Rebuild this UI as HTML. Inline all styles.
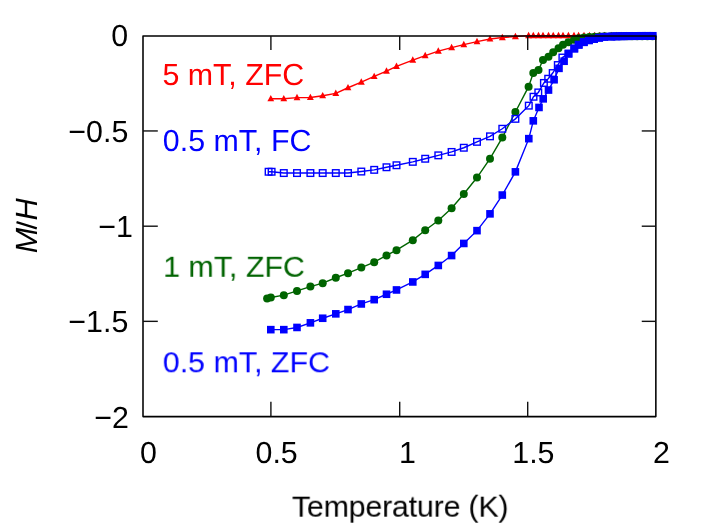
<!DOCTYPE html>
<html><head><meta charset="utf-8"><title>M/H vs Temperature</title>
<style>
html,body{margin:0;padding:0;background:#fff;}
svg{display:block;}
text{font-family:"Liberation Sans",sans-serif;font-size:30.4px;}
</style></head><body>
<svg width="706" height="530" viewBox="0 0 706 530">
<rect width="706" height="530" fill="#fff"/>
<g id="data" transform="translate(0,0.15)">
<polyline points="270.8,98.6 283.8,98.6 297.0,97.5 310.4,97.3 322.7,95.6 335.8,93.2 348.0,87.6 361.3,82.0 374.2,76.3 386.5,71.0 396.5,66.2 412.8,59.9 425.2,55.5 438.3,51.0 451.6,47.5 463.8,44.5 477.0,41.5 490.0,38.8 502.3,37.4 515.4,36.4 528.6,35.5 533.3,35.5 538.5,35.5 543.0,35.5 548.5,35.5 553.2,35.5 558.5,35.5 563.0,35.5 568.4,35.5 574.0,35.5 578.6,35.5 584.0,35.5 589.4,35.5 594.6,35.5 599.6,35.5 604.6,35.5 611.5,35.5 616.6,35.5 621.7,35.5 626.9,35.5 632.0,35.5 637.1,35.5 642.2,35.5 647.4,35.5 652.5,35.5" fill="none" stroke="#ff0000" stroke-width="1.4"/>
<path d="M270.8,94.8L274.2,101.2L267.4,101.2Z" fill="#ff0000"/>
<path d="M283.8,94.8L287.2,101.2L280.4,101.2Z" fill="#ff0000"/>
<path d="M297.0,93.7L300.4,100.1L293.6,100.1Z" fill="#ff0000"/>
<path d="M310.4,93.5L313.8,99.9L306.9,99.9Z" fill="#ff0000"/>
<path d="M322.7,91.8L326.1,98.2L319.2,98.2Z" fill="#ff0000"/>
<path d="M335.8,89.4L339.2,95.8L332.4,95.8Z" fill="#ff0000"/>
<path d="M348.0,83.8L351.4,90.2L344.6,90.2Z" fill="#ff0000"/>
<path d="M361.3,78.2L364.8,84.6L357.9,84.6Z" fill="#ff0000"/>
<path d="M374.2,72.5L377.6,78.9L370.8,78.9Z" fill="#ff0000"/>
<path d="M386.5,67.2L389.9,73.6L383.1,73.6Z" fill="#ff0000"/>
<path d="M396.5,62.4L399.9,68.8L393.1,68.8Z" fill="#ff0000"/>
<path d="M412.8,56.1L416.2,62.5L409.4,62.5Z" fill="#ff0000"/>
<path d="M425.2,51.7L428.6,58.1L421.8,58.1Z" fill="#ff0000"/>
<path d="M438.3,47.2L441.8,53.6L434.9,53.6Z" fill="#ff0000"/>
<path d="M451.6,43.7L455.1,50.1L448.2,50.1Z" fill="#ff0000"/>
<path d="M463.8,40.7L467.2,47.1L460.4,47.1Z" fill="#ff0000"/>
<path d="M477.0,37.7L480.4,44.1L473.6,44.1Z" fill="#ff0000"/>
<path d="M490.0,35.0L493.4,41.4L486.6,41.4Z" fill="#ff0000"/>
<path d="M502.3,33.6L505.8,40.0L498.9,40.0Z" fill="#ff0000"/>
<path d="M515.4,32.6L518.9,39.0L511.9,39.0Z" fill="#ff0000"/>
<path d="M528.6,31.7L532.1,38.1L525.1,38.1Z" fill="#ff0000"/>
<path d="M533.3,31.7L536.8,38.1L529.8,38.1Z" fill="#ff0000"/>
<path d="M538.5,31.7L542.0,38.1L535.0,38.1Z" fill="#ff0000"/>
<path d="M543.0,31.7L546.5,38.1L539.5,38.1Z" fill="#ff0000"/>
<path d="M548.5,31.7L552.0,38.1L545.0,38.1Z" fill="#ff0000"/>
<path d="M553.2,31.7L556.7,38.1L549.8,38.1Z" fill="#ff0000"/>
<path d="M558.5,31.7L562.0,38.1L555.0,38.1Z" fill="#ff0000"/>
<path d="M563.0,31.7L566.5,38.1L559.5,38.1Z" fill="#ff0000"/>
<path d="M568.4,31.7L571.9,38.1L564.9,38.1Z" fill="#ff0000"/>
<path d="M574.0,31.7L577.5,38.1L570.5,38.1Z" fill="#ff0000"/>
<path d="M578.6,31.7L582.1,38.1L575.1,38.1Z" fill="#ff0000"/>
<path d="M584.0,31.7L587.5,38.1L580.5,38.1Z" fill="#ff0000"/>
<path d="M589.4,31.7L592.9,38.1L585.9,38.1Z" fill="#ff0000"/>
<path d="M594.6,31.7L598.1,38.1L591.1,38.1Z" fill="#ff0000"/>
<path d="M599.6,31.7L603.1,38.1L596.1,38.1Z" fill="#ff0000"/>
<path d="M604.6,31.7L608.1,38.1L601.1,38.1Z" fill="#ff0000"/>
<path d="M611.5,31.7L614.9,38.1L608.0,38.1Z" fill="#ff0000"/>
<path d="M616.6,31.7L620.0,38.1L613.1,38.1Z" fill="#ff0000"/>
<path d="M621.7,31.7L625.2,38.1L618.3,38.1Z" fill="#ff0000"/>
<path d="M626.9,31.7L630.3,38.1L623.4,38.1Z" fill="#ff0000"/>
<path d="M632.0,31.7L635.4,38.1L628.5,38.1Z" fill="#ff0000"/>
<path d="M637.1,31.7L640.6,38.1L633.7,38.1Z" fill="#ff0000"/>
<path d="M642.2,31.7L645.7,38.1L638.8,38.1Z" fill="#ff0000"/>
<path d="M647.4,31.7L650.8,38.1L643.9,38.1Z" fill="#ff0000"/>
<path d="M652.5,31.7L656.0,38.1L649.0,38.1Z" fill="#ff0000"/>
<polyline points="267.1,298.3 270.8,297.3 283.8,295.0 297.0,290.8 310.4,286.4 322.7,283.0 335.8,277.6 348.0,273.0 361.3,267.4 374.2,262.0 386.5,255.3 396.5,250.0 412.8,240.0 425.2,230.1 438.3,220.3 451.6,208.0 463.8,193.9 477.0,177.4 490.0,158.5 502.3,137.4 515.4,111.9 528.6,86.5 533.3,72.9 538.5,69.8 543.0,59.9 548.5,56.7 553.2,52.2 558.5,48.0 563.0,44.6 568.4,42.0 574.0,39.7 578.6,38.2 584.0,37.3 589.4,36.8 594.6,36.5 599.6,36.3 604.6,36.2 611.5,36.1 616.6,36.0 621.7,36.0 626.9,36.0 632.0,36.0 637.1,36.0 642.2,36.0 647.4,36.0 652.5,36.0" fill="none" stroke="#006400" stroke-width="1.4"/>
<circle cx="267.1" cy="298.3" r="4.0" fill="#006400"/>
<circle cx="270.8" cy="297.3" r="4.0" fill="#006400"/>
<circle cx="283.8" cy="295.0" r="4.0" fill="#006400"/>
<circle cx="297.0" cy="290.8" r="4.0" fill="#006400"/>
<circle cx="310.4" cy="286.4" r="4.0" fill="#006400"/>
<circle cx="322.7" cy="283.0" r="4.0" fill="#006400"/>
<circle cx="335.8" cy="277.6" r="4.0" fill="#006400"/>
<circle cx="348.0" cy="273.0" r="4.0" fill="#006400"/>
<circle cx="361.3" cy="267.4" r="4.0" fill="#006400"/>
<circle cx="374.2" cy="262.0" r="4.0" fill="#006400"/>
<circle cx="386.5" cy="255.3" r="4.0" fill="#006400"/>
<circle cx="396.5" cy="250.0" r="4.0" fill="#006400"/>
<circle cx="412.8" cy="240.0" r="4.0" fill="#006400"/>
<circle cx="425.2" cy="230.1" r="4.0" fill="#006400"/>
<circle cx="438.3" cy="220.3" r="4.0" fill="#006400"/>
<circle cx="451.6" cy="208.0" r="4.0" fill="#006400"/>
<circle cx="463.8" cy="193.9" r="4.0" fill="#006400"/>
<circle cx="477.0" cy="177.4" r="4.0" fill="#006400"/>
<circle cx="490.0" cy="158.5" r="4.0" fill="#006400"/>
<circle cx="502.3" cy="137.4" r="4.0" fill="#006400"/>
<circle cx="515.4" cy="111.9" r="4.0" fill="#006400"/>
<circle cx="528.6" cy="86.5" r="4.0" fill="#006400"/>
<circle cx="533.3" cy="72.9" r="4.0" fill="#006400"/>
<circle cx="538.5" cy="69.8" r="4.0" fill="#006400"/>
<circle cx="543.0" cy="59.9" r="4.0" fill="#006400"/>
<circle cx="548.5" cy="56.7" r="4.0" fill="#006400"/>
<circle cx="553.2" cy="52.2" r="4.0" fill="#006400"/>
<circle cx="558.5" cy="48.0" r="4.0" fill="#006400"/>
<circle cx="563.0" cy="44.6" r="4.0" fill="#006400"/>
<circle cx="568.4" cy="42.0" r="4.0" fill="#006400"/>
<circle cx="574.0" cy="39.7" r="4.0" fill="#006400"/>
<circle cx="578.6" cy="38.2" r="4.0" fill="#006400"/>
<circle cx="584.0" cy="37.3" r="4.0" fill="#006400"/>
<circle cx="589.4" cy="36.8" r="4.0" fill="#006400"/>
<circle cx="594.6" cy="36.5" r="4.0" fill="#006400"/>
<circle cx="599.6" cy="36.3" r="4.0" fill="#006400"/>
<circle cx="604.6" cy="36.2" r="4.0" fill="#006400"/>
<circle cx="611.5" cy="36.1" r="4.0" fill="#006400"/>
<circle cx="616.6" cy="36.0" r="4.0" fill="#006400"/>
<circle cx="621.7" cy="36.0" r="4.0" fill="#006400"/>
<circle cx="626.9" cy="36.0" r="4.0" fill="#006400"/>
<circle cx="632.0" cy="36.0" r="4.0" fill="#006400"/>
<circle cx="637.1" cy="36.0" r="4.0" fill="#006400"/>
<circle cx="642.2" cy="36.0" r="4.0" fill="#006400"/>
<circle cx="647.4" cy="36.0" r="4.0" fill="#006400"/>
<circle cx="652.5" cy="36.0" r="4.0" fill="#006400"/>
<polyline points="268.6,171.6 271.6,171.6 283.8,172.9 297.0,172.9 310.4,172.9 322.7,172.9 335.8,172.9 348.0,172.9 361.3,171.4 374.2,169.7 386.5,167.1 396.5,165.1 412.8,161.7 425.2,158.6 438.3,155.2 451.6,151.8 463.8,147.6 477.0,141.7 490.0,136.2 502.3,128.6 515.4,118.7 528.8,105.5 533.5,96.6 538.3,92.3 543.9,82.8 548.2,78.6 552.7,72.9 557.8,64.9 562.4,57.4 568.5,53.5 574.3,48.4 578.7,44.6 583.8,42.0 588.9,40.1 594.0,38.8 599.1,37.6 604.2,36.7 611.5,36.4 616.6,36.2 621.7,36.1 626.9,36.0 632.0,35.9 637.1,35.9 642.2,35.8 647.4,35.8 652.5,35.8" fill="none" stroke="#0000ff" stroke-width="1.4"/>
<rect x="265.3" y="168.3" width="6.6" height="6.6" fill="none" stroke="#0000ff" stroke-width="1.4"/>
<rect x="268.3" y="168.3" width="6.6" height="6.6" fill="none" stroke="#0000ff" stroke-width="1.4"/>
<rect x="280.5" y="169.6" width="6.6" height="6.6" fill="none" stroke="#0000ff" stroke-width="1.4"/>
<rect x="293.7" y="169.6" width="6.6" height="6.6" fill="none" stroke="#0000ff" stroke-width="1.4"/>
<rect x="307.1" y="169.6" width="6.6" height="6.6" fill="none" stroke="#0000ff" stroke-width="1.4"/>
<rect x="319.4" y="169.6" width="6.6" height="6.6" fill="none" stroke="#0000ff" stroke-width="1.4"/>
<rect x="332.5" y="169.6" width="6.6" height="6.6" fill="none" stroke="#0000ff" stroke-width="1.4"/>
<rect x="344.7" y="169.6" width="6.6" height="6.6" fill="none" stroke="#0000ff" stroke-width="1.4"/>
<rect x="358.0" y="168.1" width="6.6" height="6.6" fill="none" stroke="#0000ff" stroke-width="1.4"/>
<rect x="370.9" y="166.4" width="6.6" height="6.6" fill="none" stroke="#0000ff" stroke-width="1.4"/>
<rect x="383.2" y="163.8" width="6.6" height="6.6" fill="none" stroke="#0000ff" stroke-width="1.4"/>
<rect x="393.2" y="161.8" width="6.6" height="6.6" fill="none" stroke="#0000ff" stroke-width="1.4"/>
<rect x="409.5" y="158.4" width="6.6" height="6.6" fill="none" stroke="#0000ff" stroke-width="1.4"/>
<rect x="421.9" y="155.3" width="6.6" height="6.6" fill="none" stroke="#0000ff" stroke-width="1.4"/>
<rect x="435.0" y="151.9" width="6.6" height="6.6" fill="none" stroke="#0000ff" stroke-width="1.4"/>
<rect x="448.3" y="148.5" width="6.6" height="6.6" fill="none" stroke="#0000ff" stroke-width="1.4"/>
<rect x="460.5" y="144.3" width="6.6" height="6.6" fill="none" stroke="#0000ff" stroke-width="1.4"/>
<rect x="473.7" y="138.4" width="6.6" height="6.6" fill="none" stroke="#0000ff" stroke-width="1.4"/>
<rect x="486.7" y="132.9" width="6.6" height="6.6" fill="none" stroke="#0000ff" stroke-width="1.4"/>
<rect x="499.0" y="125.3" width="6.6" height="6.6" fill="none" stroke="#0000ff" stroke-width="1.4"/>
<rect x="512.1" y="115.4" width="6.6" height="6.6" fill="none" stroke="#0000ff" stroke-width="1.4"/>
<rect x="525.5" y="102.2" width="6.6" height="6.6" fill="none" stroke="#0000ff" stroke-width="1.4"/>
<rect x="530.2" y="93.3" width="6.6" height="6.6" fill="none" stroke="#0000ff" stroke-width="1.4"/>
<rect x="535.0" y="89.0" width="6.6" height="6.6" fill="none" stroke="#0000ff" stroke-width="1.4"/>
<rect x="540.6" y="79.5" width="6.6" height="6.6" fill="none" stroke="#0000ff" stroke-width="1.4"/>
<rect x="544.9" y="75.3" width="6.6" height="6.6" fill="none" stroke="#0000ff" stroke-width="1.4"/>
<rect x="549.4" y="69.6" width="6.6" height="6.6" fill="none" stroke="#0000ff" stroke-width="1.4"/>
<rect x="554.5" y="61.6" width="6.6" height="6.6" fill="none" stroke="#0000ff" stroke-width="1.4"/>
<rect x="559.1" y="54.1" width="6.6" height="6.6" fill="none" stroke="#0000ff" stroke-width="1.4"/>
<rect x="565.2" y="50.2" width="6.6" height="6.6" fill="none" stroke="#0000ff" stroke-width="1.4"/>
<rect x="571.0" y="45.1" width="6.6" height="6.6" fill="none" stroke="#0000ff" stroke-width="1.4"/>
<rect x="575.4" y="41.3" width="6.6" height="6.6" fill="none" stroke="#0000ff" stroke-width="1.4"/>
<rect x="580.5" y="38.7" width="6.6" height="6.6" fill="none" stroke="#0000ff" stroke-width="1.4"/>
<rect x="585.6" y="36.8" width="6.6" height="6.6" fill="none" stroke="#0000ff" stroke-width="1.4"/>
<rect x="590.7" y="35.5" width="6.6" height="6.6" fill="none" stroke="#0000ff" stroke-width="1.4"/>
<rect x="595.8" y="34.3" width="6.6" height="6.6" fill="none" stroke="#0000ff" stroke-width="1.4"/>
<rect x="600.9" y="33.4" width="6.6" height="6.6" fill="none" stroke="#0000ff" stroke-width="1.4"/>
<rect x="608.2" y="33.1" width="6.6" height="6.6" fill="none" stroke="#0000ff" stroke-width="1.4"/>
<rect x="613.3" y="32.9" width="6.6" height="6.6" fill="none" stroke="#0000ff" stroke-width="1.4"/>
<rect x="618.4" y="32.8" width="6.6" height="6.6" fill="none" stroke="#0000ff" stroke-width="1.4"/>
<rect x="623.6" y="32.7" width="6.6" height="6.6" fill="none" stroke="#0000ff" stroke-width="1.4"/>
<rect x="628.7" y="32.6" width="6.6" height="6.6" fill="none" stroke="#0000ff" stroke-width="1.4"/>
<rect x="633.8" y="32.6" width="6.6" height="6.6" fill="none" stroke="#0000ff" stroke-width="1.4"/>
<rect x="638.9" y="32.5" width="6.6" height="6.6" fill="none" stroke="#0000ff" stroke-width="1.4"/>
<rect x="644.1" y="32.5" width="6.6" height="6.6" fill="none" stroke="#0000ff" stroke-width="1.4"/>
<rect x="649.2" y="32.5" width="6.6" height="6.6" fill="none" stroke="#0000ff" stroke-width="1.4"/>
<polyline points="270.8,329.5 283.8,329.5 297.0,327.3 310.4,322.7 322.7,318.1 335.8,313.7 348.0,309.4 361.3,303.8 374.2,299.5 386.5,294.1 396.5,289.8 412.8,281.8 425.2,274.2 438.3,265.3 451.6,255.4 463.8,243.3 477.0,230.5 490.0,213.7 502.3,194.9 515.4,171.7 528.8,138.5 533.3,120.7 539.0,107.3 543.2,98.7 548.5,89.9 554.1,79.6 559.0,68.2 564.1,61.1 568.5,53.5 574.3,48.4 578.7,44.6 583.8,42.0 588.9,40.1 594.0,38.8 599.1,37.6 604.2,36.7 611.5,36.4 616.6,36.2 621.7,36.1 626.9,36.0 632.0,35.9 637.1,35.9 642.2,35.8 647.4,35.8 652.5,35.8" fill="none" stroke="#0000ff" stroke-width="1.4"/>
<rect x="267.00" y="325.70" width="7.6" height="7.6" fill="#0000ff"/>
<rect x="280.00" y="325.70" width="7.6" height="7.6" fill="#0000ff"/>
<rect x="293.20" y="323.50" width="7.6" height="7.6" fill="#0000ff"/>
<rect x="306.60" y="318.90" width="7.6" height="7.6" fill="#0000ff"/>
<rect x="318.90" y="314.30" width="7.6" height="7.6" fill="#0000ff"/>
<rect x="332.00" y="309.90" width="7.6" height="7.6" fill="#0000ff"/>
<rect x="344.20" y="305.60" width="7.6" height="7.6" fill="#0000ff"/>
<rect x="357.50" y="300.00" width="7.6" height="7.6" fill="#0000ff"/>
<rect x="370.40" y="295.70" width="7.6" height="7.6" fill="#0000ff"/>
<rect x="382.70" y="290.30" width="7.6" height="7.6" fill="#0000ff"/>
<rect x="392.70" y="286.00" width="7.6" height="7.6" fill="#0000ff"/>
<rect x="409.00" y="278.00" width="7.6" height="7.6" fill="#0000ff"/>
<rect x="421.40" y="270.40" width="7.6" height="7.6" fill="#0000ff"/>
<rect x="434.50" y="261.50" width="7.6" height="7.6" fill="#0000ff"/>
<rect x="447.80" y="251.60" width="7.6" height="7.6" fill="#0000ff"/>
<rect x="460.00" y="239.50" width="7.6" height="7.6" fill="#0000ff"/>
<rect x="473.20" y="226.70" width="7.6" height="7.6" fill="#0000ff"/>
<rect x="486.20" y="209.90" width="7.6" height="7.6" fill="#0000ff"/>
<rect x="498.50" y="191.10" width="7.6" height="7.6" fill="#0000ff"/>
<rect x="511.60" y="167.90" width="7.6" height="7.6" fill="#0000ff"/>
<rect x="525.00" y="134.70" width="7.6" height="7.6" fill="#0000ff"/>
<rect x="529.50" y="116.90" width="7.6" height="7.6" fill="#0000ff"/>
<rect x="535.20" y="103.50" width="7.6" height="7.6" fill="#0000ff"/>
<rect x="539.40" y="94.90" width="7.6" height="7.6" fill="#0000ff"/>
<rect x="544.70" y="86.10" width="7.6" height="7.6" fill="#0000ff"/>
<rect x="550.30" y="75.80" width="7.6" height="7.6" fill="#0000ff"/>
<rect x="555.20" y="64.40" width="7.6" height="7.6" fill="#0000ff"/>
<rect x="560.30" y="57.30" width="7.6" height="7.6" fill="#0000ff"/>
<rect x="564.70" y="49.70" width="7.6" height="7.6" fill="#0000ff"/>
<rect x="570.50" y="44.60" width="7.6" height="7.6" fill="#0000ff"/>
<rect x="574.90" y="40.80" width="7.6" height="7.6" fill="#0000ff"/>
<rect x="580.00" y="38.20" width="7.6" height="7.6" fill="#0000ff"/>
<rect x="585.10" y="36.30" width="7.6" height="7.6" fill="#0000ff"/>
<rect x="590.20" y="35.00" width="7.6" height="7.6" fill="#0000ff"/>
<rect x="595.30" y="33.80" width="7.6" height="7.6" fill="#0000ff"/>
<rect x="600.40" y="32.90" width="7.6" height="7.6" fill="#0000ff"/>
<rect x="607.66" y="32.60" width="7.6" height="7.6" fill="#0000ff"/>
<rect x="612.79" y="32.40" width="7.6" height="7.6" fill="#0000ff"/>
<rect x="617.92" y="32.30" width="7.6" height="7.6" fill="#0000ff"/>
<rect x="623.05" y="32.20" width="7.6" height="7.6" fill="#0000ff"/>
<rect x="628.18" y="32.10" width="7.6" height="7.6" fill="#0000ff"/>
<rect x="633.31" y="32.10" width="7.6" height="7.6" fill="#0000ff"/>
<rect x="638.44" y="32.00" width="7.6" height="7.6" fill="#0000ff"/>
<rect x="643.57" y="32.00" width="7.6" height="7.6" fill="#0000ff"/>
<rect x="648.70" y="32.00" width="7.6" height="7.6" fill="#0000ff"/>
</g>
<g id="axes">
<rect x="143.0" y="36.0" width="512.85" height="380.6" fill="none" stroke="#000" stroke-width="1.55" stroke-linejoin="round"/>
<line x1="270.90" y1="36.0" x2="270.90" y2="49.9" stroke="#111" stroke-width="1.4"/>
<line x1="270.90" y1="416.6" x2="270.90" y2="401.75" stroke="#111" stroke-width="1.4"/>
<line x1="399.70" y1="36.0" x2="399.70" y2="49.9" stroke="#111" stroke-width="1.4"/>
<line x1="399.70" y1="416.6" x2="399.70" y2="401.75" stroke="#111" stroke-width="1.4"/>
<line x1="527.70" y1="36.0" x2="527.70" y2="49.9" stroke="#111" stroke-width="1.4"/>
<line x1="527.70" y1="416.6" x2="527.70" y2="401.75" stroke="#111" stroke-width="1.4"/>
<line x1="143.0" y1="130.95" x2="157.8" y2="130.95" stroke="#111" stroke-width="1.4"/>
<line x1="655.85" y1="130.95" x2="641.75" y2="130.95" stroke="#111" stroke-width="1.4"/>
<line x1="143.0" y1="226.20" x2="157.8" y2="226.20" stroke="#111" stroke-width="1.4"/>
<line x1="655.85" y1="226.20" x2="641.75" y2="226.20" stroke="#111" stroke-width="1.4"/>
<line x1="143.0" y1="321.35" x2="157.8" y2="321.35" stroke="#111" stroke-width="1.4"/>
<line x1="655.85" y1="321.35" x2="641.75" y2="321.35" stroke="#111" stroke-width="1.4"/>
</g>
<g id="labels" opacity="0.999">
<text transform="translate(128.2,46.4) skewX(0.03)" text-anchor="end">0</text>
<text transform="translate(128.3,142.1) skewX(0.03)" text-anchor="end">−0.5</text>
<text transform="translate(132.8,237.2) skewX(0.03)" text-anchor="end">−1</text>
<text transform="translate(128.3,332.4) skewX(0.03)" text-anchor="end">−1.5</text>
<text transform="translate(129.0,427.8) skewX(0.03)" text-anchor="end">−2</text>
<text transform="translate(148.4,463.3) skewX(0.03)" text-anchor="middle">0</text>
<text transform="translate(276.6,463.3) skewX(0.03)" text-anchor="middle">0.5</text>
<text transform="translate(407.4,463.3) skewX(0.03)" text-anchor="middle">1</text>
<text transform="translate(533.4,463.3) skewX(0.03)" text-anchor="middle">1.5</text>
<text transform="translate(661.5,463.3) skewX(0.03)" text-anchor="middle">2</text>
<text transform="translate(400.2,516.7) skewX(0.03)" text-anchor="middle" style="letter-spacing:-0.21px">Temperature (K)</text>
<text transform="translate(36.9,253.3) rotate(-90) skewX(0.03)" text-anchor="start" font-style="italic" style="font-size:30.7px">M</text>
<text transform="translate(36.9,220.6) rotate(-90) skewX(0.03)" text-anchor="start" font-style="italic" style="font-size:30.7px">H</text>
<line x1="36.8" y1="228.4" x2="16.5" y2="222.2" stroke="#000" stroke-width="2.3"/>
<text transform="translate(162.4,84.8) skewX(0.03)" text-anchor="start" fill="#ff0000">5 mT, ZFC</text>
<text transform="translate(162.8,151.2) skewX(0.03)" text-anchor="start" fill="#0000ff">0.5 mT, FC</text>
<text transform="translate(163.2,276.8) skewX(0.03)" text-anchor="start" fill="#006400">1 mT, ZFC</text>
<text transform="translate(162.8,372.3) skewX(0.03)" text-anchor="start" fill="#0000ff">0.5 mT, ZFC</text>
</g>
</svg>
</body></html>
